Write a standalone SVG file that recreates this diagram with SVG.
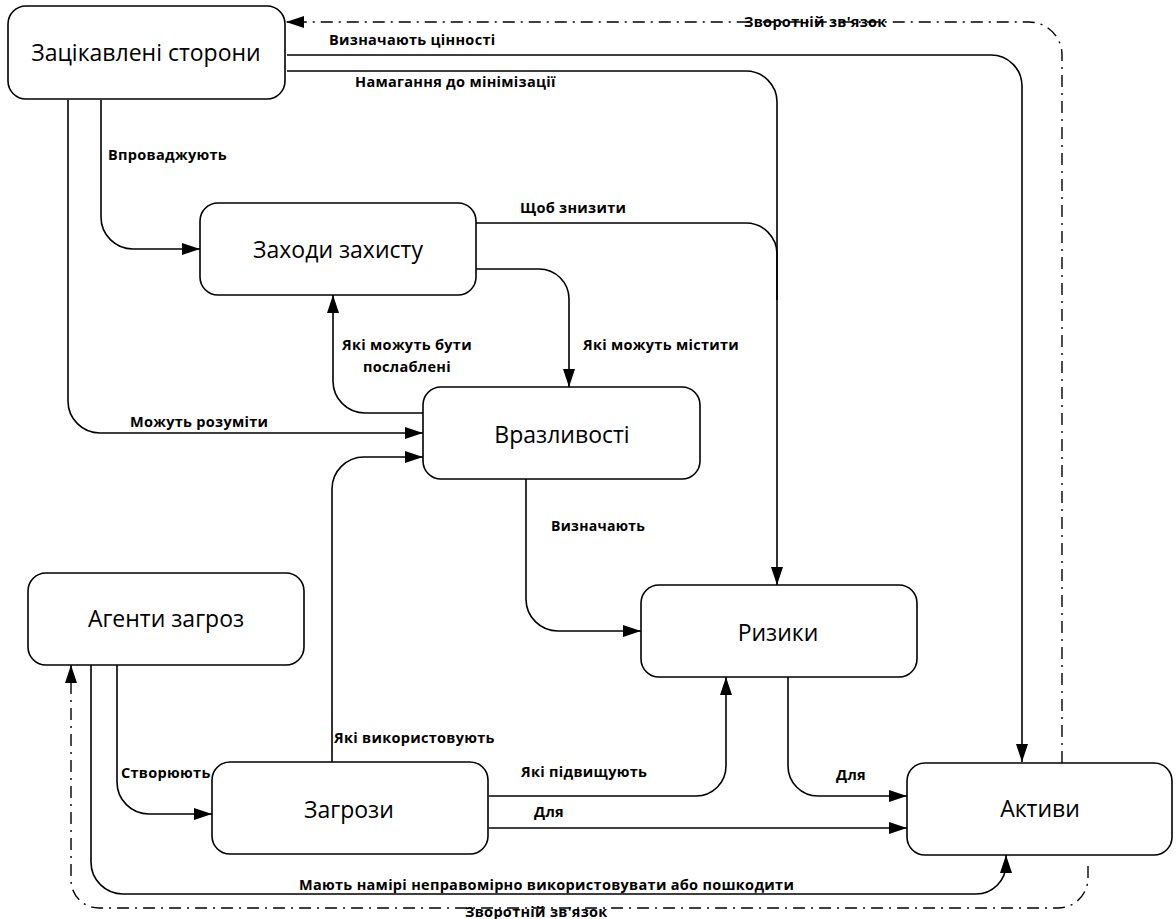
<svg xmlns="http://www.w3.org/2000/svg" width="1176" height="919" viewBox="0 0 1176 919">
<defs>
<marker id="arr" markerUnits="userSpaceOnUse" markerWidth="18" markerHeight="12" refX="18" refY="6" orient="auto">
<path d="M0,0 L18,6 L0,12 z" fill="#000"/>
</marker>
<style>
.node rect{fill:#fff;stroke:#000;stroke-width:1.6}
.node text{font-family:"Open Sans","Liberation Sans",sans-serif;font-size:23px;fill:#000;text-anchor:middle}
.c{fill:none;stroke:#000;stroke-width:1.6;marker-end:url(#arr)}
.fb{fill:none;stroke:#000;stroke-width:1.4;stroke-dasharray:12 6 2 6;marker-end:url(#arr)}
.lbl{font-family:"Open Sans","Liberation Sans",sans-serif;font-size:14.5px;letter-spacing:0.3px;font-weight:bold;fill:#000}
</style>
</defs>
<rect width="1176" height="919" fill="#fff"/>
<g id="connectors">
<path class="c" d="M287,55 H991 A31,31 0 0 1 1022,86 V762"/>
<path class="c" d="M287,71 H746 A31,31 0 0 1 777,102 V585"/>
<path class="c" d="M101,100 V217 A32,32 0 0 0 133,249 H200"/>
<path class="c" d="M68,100 V401 A32,32 0 0 0 100,433 H423"/>
<path class="c" style="marker-end:none" d="M476,223 H746 A31,31 0 0 1 777,254 V300"/>
<path class="c" d="M476,269 H539 A30,30 0 0 1 569,299 V387"/>
<path class="c" d="M423,413 H365 A32,32 0 0 1 333,381 V295"/>
<path class="c" d="M332,762 V489 A32,32 0 0 1 364,457 H423"/>
<path class="c" d="M526,479 V599 A32,32 0 0 0 558,631 H641"/>
<path class="c" d="M117,665 V782 A32,32 0 0 0 149,814 H212"/>
<path class="c" d="M91,665 V862 A32,32 0 0 0 123,894 H976 A30,30 0 0 0 1006,864 V855"/>
<path class="c" d="M489,796 H696 A30,30 0 0 0 726,766 V677"/>
<path class="c" d="M489,828 H907"/>
<path class="c" d="M788,677 V766 A30,30 0 0 0 818,796 H907"/>
<path class="fb" d="M1062,763 V55 A33,33 0 0 0 1029,22 H286"/>
<path class="fb" d="M1088,866 V878 A30,30 0 0 1 1058,908 H99 A28,28 0 0 1 71,880 V665"/>
<text class="lbl" x="329" y="45">Визначають цінності</text>
<text class="lbl" x="355" y="87">Намагання до мінімізації</text>
<text class="lbl" x="108" y="160">Впроваджують</text>
<text class="lbl" x="520" y="213">Щоб знизити</text>
<text class="lbl" x="583" y="350">Які можуть містити</text>
<text class="lbl" x="407" y="350" text-anchor="middle">Які можуть бути</text>
<text class="lbl" x="407" y="372" text-anchor="middle">послаблені</text>
<text class="lbl" x="130" y="427">Можуть розуміти</text>
<text class="lbl" x="551" y="531" style="font-size:14px">Визначають</text>
<text class="lbl" x="334" y="743">Які використовують</text>
<text class="lbl" x="121" y="778">Створюють</text>
<text class="lbl" x="521" y="777">Які підвищують</text>
<text class="lbl" x="534" y="817">Для</text>
<text class="lbl" x="836" y="780">Для</text>
<text class="lbl" x="299" y="890">Мають намірі неправомірно використовувати або пошкодити</text>
<text class="lbl" x="744" y="27">Зворотній зв'язок</text>
<text class="lbl" x="465" y="917">Зворотній зв'язок</text>
</g>
<g id="n-stakeholders" class="node"><rect x="8" y="6" width="277" height="93" rx="18"/><text x="146" y="61">Зацікавлені сторони</text></g>
<g id="n-measures" class="node"><rect x="200" y="203" width="276" height="92" rx="18"/><text x="338" y="258">Заходи захисту</text></g>
<g id="n-vuln" class="node"><rect x="423" y="387" width="277" height="92" rx="18"/><text x="562" y="443">Вразливості</text></g>
<g id="n-agents" class="node"><rect x="28" y="573" width="276" height="92" rx="18"/><text x="166" y="627">Агенти загроз</text></g>
<g id="n-risks" class="node"><rect x="641" y="585" width="276" height="92" rx="18"/><text x="778" y="641">Ризики</text></g>
<g id="n-threats" class="node"><rect x="212" y="762" width="276" height="92" rx="18"/><text x="349" y="818">Загрози</text></g>
<g id="n-assets" class="node"><rect x="907" y="763" width="265" height="92" rx="18"/><text x="1040" y="817">Активи</text></g>
</svg>
